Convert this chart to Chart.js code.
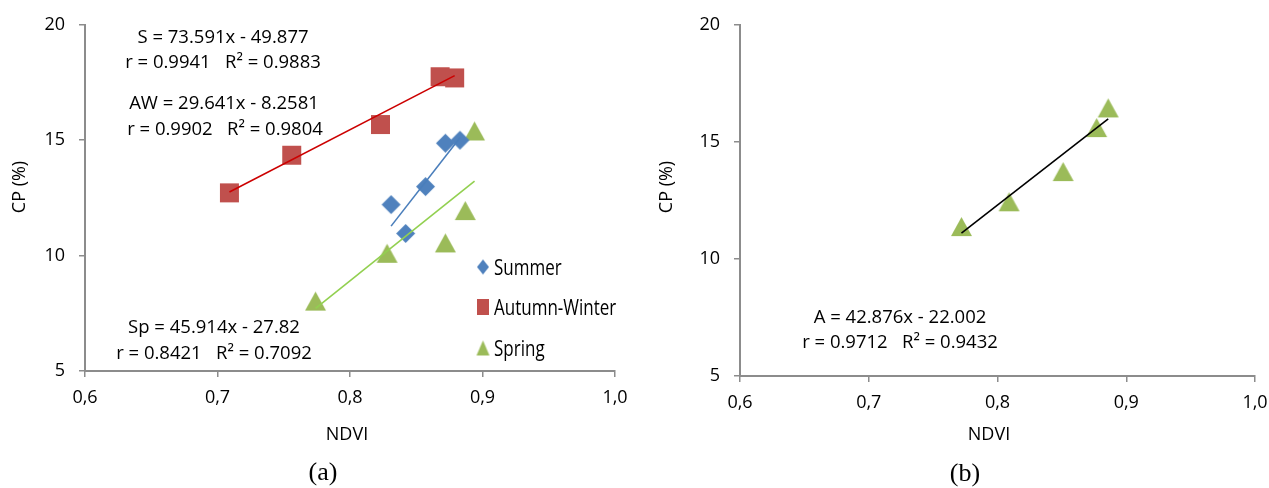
<!DOCTYPE html>
<html>
<head>
<meta charset="utf-8">
<script src="https://cdn.jsdelivr.net/npm/chart.js@4.4.1/dist/chart.umd.min.js"></script>
<style>
  html, body { margin: 0; padding: 0; background: #fff; overflow: hidden; }
  #wrap { position: relative; width: 1269px; height: 488px; overflow: hidden; }
  canvas { position: absolute; top: 0; }
</style>
</head>
<body>
<div id="wrap">
  <canvas id="chartA" width="640" height="488" style="left:0"></canvas>
  <canvas id="chartB" width="640" height="488" style="left:640px"></canvas>
</div>
<script>
// panel (a): NDVI vs CP per season
const summerNdvi = [0.831, 0.842, 0.857, 0.872, 0.883];
const summerCp = [12.21, 10.96, 12.99, 14.87, 15.0];
const autumnNdvi = [0.709, 0.756, 0.823, 0.868, 0.879];
const autumnCp = [12.72, 14.35, 15.68, 17.75, 17.70];
const springNdvi = [0.774, 0.828, 0.872, 0.887, 0.894];
const springCp = [8.03, 10.1, 10.55, 11.95, 15.4];

// panel (b): all seasons pooled
const allNdvi = [0.772, 0.809, 0.851, 0.877, 0.886];
const allCp = [11.38, 12.44, 13.73, 15.61, 16.45];

// trendlines as printed [slope, intercept]
const summerFit = [73.591, -49.877];
const autumnFit = [29.641, -8.2581];
const springFit = [45.914, -27.82];
const allFit = [42.876, -22.002];

const xTicks = [0.6, 0.7, 0.8, 0.9, 1.0];
const xTickLabels = ['0,6', '0,7', '0,8', '0,9', '1,0'];
const yTicks = [5, 10, 15, 20];
const yTickLabels = ['5', '10', '15', '20'];

const BLUE = '#4F81BD', RED = '#C0504D', GREEN = '#9BBB59';

// excel-like marker images
function marker(shape, color, w, h) {
  const c = document.createElement('canvas');
  c.width = Math.ceil(w) + 2;
  c.height = Math.ceil(h) + 2;
  const g = c.getContext('2d');
  const cx = c.width / 2, cy = c.height / 2;
  g.fillStyle = color;
  g.beginPath();
  if (shape === 'diamond') {
    g.moveTo(cx, cy - h / 2); g.lineTo(cx + w / 2, cy);
    g.lineTo(cx, cy + h / 2); g.lineTo(cx - w / 2, cy);
  } else if (shape === 'square') {
    g.rect(cx - w / 2, cy - h / 2, w, h);
  } else {
    g.moveTo(cx, cy - h / 2); g.lineTo(cx + w / 2, cy + h / 2); g.lineTo(cx - w / 2, cy + h / 2);
  }
  g.closePath();
  g.fill();
  return c;
}

const pts = (xs, ys) => xs.map((x, i) => ({ x: x, y: ys[i] }));
function trend(xs, fit) {
  const lo = Math.min(...xs), hi = Math.max(...xs);
  return [{ x: lo, y: fit[0] * lo + fit[1] }, { x: hi, y: fit[0] * hi + fit[1] }];
}
function trendSet(xs, fit, color) {
  return { type: 'line', data: trend(xs, fit), borderColor: color, borderWidth: 1.6,
           pointRadius: 0, fill: false, order: 0, legendSkip: true };
}
function scatterSet(label, xs, ys, img, legendImg) {
  return { type: 'scatter', label: label, data: pts(xs, ys), pointStyle: img,
           pointRadius: 10, order: 1, legendImg: legendImg };
}

const tickFont = { family: 'Open Sans', size: 18 };
function scales(yWidth, xHeight) {
  return {
    x: {
      type: 'linear', min: 0.6, max: 1.0,
      afterBuildTicks: s => { s.ticks = xTicks.map(v => ({ value: v })); },
      afterFit: s => { s.height = xHeight; },
      ticks: { padding: 10, color: '#000', font: tickFont,
               callback: (v, i) => xTickLabels[i] },
      grid: { drawOnChartArea: false, drawTicks: true, tickLength: 6, color: '#8c8c8c', lineWidth: 1.5 },
      border: { color: '#8c8c8c', width: 2 }
    },
    y: {
      type: 'linear', min: 5, max: 20,
      afterBuildTicks: s => { s.ticks = yTicks.map(v => ({ value: v })); },
      afterFit: s => { s.width = yWidth; },
      ticks: { padding: 14, color: '#000', font: tickFont,
               callback: (v, i) => yTickLabels[i] },
      grid: { drawOnChartArea: false, drawTicks: true, tickLength: 6, color: '#8c8c8c', lineWidth: 1.5 },
      border: { color: '#8c8c8c', width: 2 }
    }
  };
}

// text, axis titles, in-plot legend
const notesPlugin = {
  id: 'notes',
  afterDraw(chart, args, opts) {
    const ctx = chart.ctx;
    ctx.save();
    ctx.fillStyle = '#000';
    ctx.textAlign = 'center';
    ctx.textBaseline = 'middle';
    ctx.font = '18.5px "Open Sans"';
    opts.texts.forEach(t => ctx.fillText(t[0], t[1], t[2]));

    ctx.font = '18px "Open Sans"';
    ctx.fillText('NDVI', opts.xTitle[0], opts.xTitle[1]);
    ctx.save();
    ctx.translate(opts.yTitle[0], opts.yTitle[1]);
    ctx.rotate(-Math.PI / 2);
    ctx.fillText('CP (%)', 0, 0);
    ctx.restore();

    ctx.font = '26px "Liberation Serif"';
    ctx.fillText(opts.panel[0], opts.panel[1], opts.panel[2]);

    if (opts.legend) {
      const lg = opts.legend;
      const items = chart.data.datasets.filter(d => !d.legendSkip);
      ctx.font = '17px "Open Sans"';
      ctx.textAlign = 'left';
      items.forEach((d, i) => {
        const y = lg.y[i];
        const im = d.legendImg;
        ctx.drawImage(im, lg.mx - im.width / 2, y - im.height / 2);
        ctx.save();
        ctx.translate(lg.tx, y);
        ctx.scale(1, 1.3);
        ctx.fillText(d.label, 0, 1);
        ctx.restore();
      });
    }
    ctx.restore();
  }
};

new Chart(document.getElementById('chartA'), {
  type: 'scatter',
  data: {
    datasets: [
      trendSet(summerNdvi, summerFit, '#4A7EBB'),
      trendSet(autumnNdvi, autumnFit, '#CC0000'),
      trendSet(springNdvi, springFit, '#92D050'),
      scatterSet('Summer', summerNdvi, summerCp, marker('diamond', BLUE, 19, 19), marker('diamond', BLUE, 12, 15)),
      scatterSet('Autumn-Winter', autumnNdvi, autumnCp, marker('square', RED, 19, 19), marker('square', RED, 12, 16)),
      scatterSet('Spring', springNdvi, springCp, marker('triangle', GREEN, 21, 19), marker('triangle', GREEN, 13, 15))
    ]
  },
  options: {
    responsive: false,
    animation: false,
    layout: { padding: { top: 21, right: 25, left: 0, bottom: 0 } },
    scales: scales(85, 117),
    plugins: {
      legend: { display: false },
      tooltip: { enabled: false },
      notes: {
        texts: [
          ['S = 73.591x - 49.877', 223, 38],
          ['r = 0.9941   R\u00b2 = 0.9883', 223, 63],
          ['AW = 29.641x - 8.2581', 224, 104],
          ['r = 0.9902   R\u00b2 = 0.9804', 225, 130],
          ['Sp = 45.914x - 27.82', 214, 328],
          ['r = 0.8421   R\u00b2 = 0.7092', 214, 354]
        ],
        xTitle: [347, 435],
        yTitle: [20, 187],
        panel: ['(a)', 323, 473],
        legend: { mx: 483, tx: 494, y: [267, 307, 348] }
      }
    }
  },
  plugins: [notesPlugin]
});

new Chart(document.getElementById('chartB'), {
  type: 'scatter',
  data: {
    datasets: [
      trendSet(allNdvi, allFit, '#000000'),
      scatterSet('All', allNdvi, allCp, marker('triangle', GREEN, 21, 19), null)
    ]
  },
  options: {
    responsive: false,
    animation: false,
    layout: { padding: { top: 21, right: 25, left: 0, bottom: 0 } },
    scales: scales(100, 112),
    plugins: {
      legend: { display: false },
      tooltip: { enabled: false },
      notes: {
        texts: [
          ['A = 42.876x - 22.002', 260, 318],
          ['r = 0.9712   R\u00b2 = 0.9432', 260, 343]
        ],
        xTitle: [349, 435],
        yTitle: [27, 187],
        panel: ['(b)', 325, 474],
        legend: null
      }
    }
  },
  plugins: [notesPlugin]
});
</script>
</body>
</html>
